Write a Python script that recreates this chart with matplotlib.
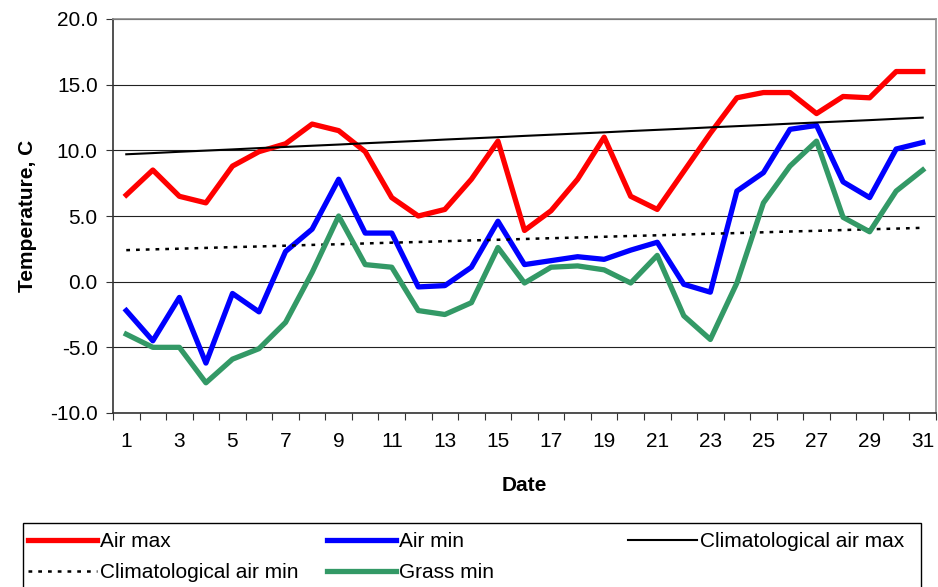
import matplotlib
matplotlib.use("Agg")
import matplotlib.pyplot as plt
from matplotlib.ticker import FixedLocator, FormatStrFormatter, NullFormatter
from matplotlib.patches import Rectangle

plt.rcParams['font.family'] = ['Liberation Sans', 'DejaVu Sans']
plt.rcParams['axes.unicode_minus'] = False

dates = list(range(1, 32))
air_max = [6.6, 8.5, 6.5, 6.0, 8.8, 9.9, 10.5, 12.0, 11.5, 9.9, 6.4, 5.0, 5.5, 7.8, 10.7, 3.9,
           5.4, 7.8, 11.0, 6.5, 5.5, 8.4, 11.3, 14.0, 14.4, 14.4, 12.8, 14.1, 14.0, 16.0, 16.0]
air_min = [-2.2, -4.5, -1.2, -6.2, -0.9, -2.3, 2.3, 4.0, 7.8, 3.7, 3.7, -0.4, -0.3, 1.1, 4.6, 1.3,
           1.6, 1.9, 1.7, 2.4, 3.0, -0.2, -0.8, 6.9, 8.3, 11.6, 11.9, 7.6, 6.4, 10.1, 10.6]
clim_max = [9.70, 9.79, 9.89, 9.98, 10.07, 10.17, 10.26, 10.35, 10.44, 10.54, 10.63, 10.72, 10.82,
            10.91, 11.00, 11.10, 11.19, 11.28, 11.37, 11.47, 11.56, 11.65, 11.75, 11.84, 11.93,
            12.03, 12.12, 12.21, 12.30, 12.40, 12.49]
clim_min = [2.40, 2.46, 2.51, 2.57, 2.63, 2.68, 2.74, 2.80, 2.85, 2.91, 2.97, 3.02, 3.08, 3.14,
            3.19, 3.25, 3.31, 3.36, 3.42, 3.48, 3.53, 3.59, 3.65, 3.70, 3.76, 3.82, 3.87, 3.93,
            3.99, 4.04, 4.10]
grass_min = [-4.0, -5.0, -5.0, -7.7, -5.9, -5.1, -3.1, 0.7, 5.0, 1.3, 1.1, -2.2, -2.5, -1.6, 2.6, -0.1,
             1.1, 1.2, 0.9, -0.1, 2.0, -2.6, -4.4, -0.1, 6.0, 8.8, 10.7, 4.9, 3.8, 6.9, 8.5]
y_ticks = [-10, -5, 0, 5, 10, 15, 20]

fig = plt.figure(figsize=(9.38, 5.87), dpi=100)
ax = fig.add_axes([113 / 938, 1 - 413 / 587, 823 / 938, 394 / 587])

ax.plot(dates, air_max, color='#FF0000', lw=3.8, solid_joinstyle='round', label='Air max')
ax.plot(dates, air_min, color='#0000FF', lw=3.8, solid_joinstyle='round', label='Air min')
ax.plot(dates, clim_max, color='black', lw=1.5, label='Climatological air max')
ax.plot(dates, clim_min, color='black', lw=1.8, linestyle=(0, (1.5, 2.4)), label='Climatological air min')
ax.plot(dates, grass_min, color='#339966', lw=3.8, solid_joinstyle='round', label='Grass min')

ax.set_xlim(0.5, 31.5)
ax.set_ylim(-10, 20)
ax.yaxis.set_major_locator(FixedLocator(y_ticks))
ax.yaxis.set_major_formatter(FormatStrFormatter('%.1f'))
ax.grid(axis='y', color='#222222', lw=0.8)
ax.set_axisbelow(True)

# ticks between categories, labels on odd days
ax.xaxis.set_major_locator(FixedLocator([d + 0.5 for d in range(0, 32)]))
ax.xaxis.set_major_formatter(NullFormatter())
ax.xaxis.set_minor_locator(FixedLocator(dates[::2]))
ax.xaxis.set_minor_formatter(FormatStrFormatter('%d'))
ax.tick_params(axis='x', which='major', direction='out', length=5, width=0.8, color='#333333')
ax.tick_params(axis='x', which='minor', length=0, pad=14, labelsize=15)
ax.tick_params(axis='y', direction='out', length=5, width=0.8, color='#333333', pad=6, labelsize=15)

ax.spines['left'].set_color('#333333')
ax.spines['bottom'].set_color('#333333')
ax.spines['top'].set_color('#8c8c8c')
ax.spines['right'].set_color('#8c8c8c')
for s in ax.spines.values():
    s.set_linewidth(1.2)

ax.set_xlabel('Date', fontsize=15, fontweight='bold', labelpad=18)
ax.set_ylabel('Temperature, C', fontsize=15, fontweight='bold', labelpad=9)

# legend: frame plus three columns
handles, labels = ax.get_legend_handles_labels()
hmap = dict(zip(labels, handles))
fig.patches.append(Rectangle((23 / 938, -0.05), 898 / 938, 1 - 523 / 587 + 0.05,
                             transform=fig.transFigure, fill=False, edgecolor='black', lw=1.0))
columns = [(['Air max', 'Climatological air min'], 28),
           (['Air min', 'Grass min'], 327),
           (['Climatological air max'], 628)]
for labs, xpix in columns:
    fig.legend([hmap[l] for l in labs], labs, loc='upper left',
               bbox_to_anchor=(xpix / 938, 1 - 532 / 587), frameon=False, fontsize=15,
               handlelength=3.3, handletextpad=0.15, labelspacing=0.58,
               borderpad=0, borderaxespad=0)

fig.savefig('out.png', dpi=100)
